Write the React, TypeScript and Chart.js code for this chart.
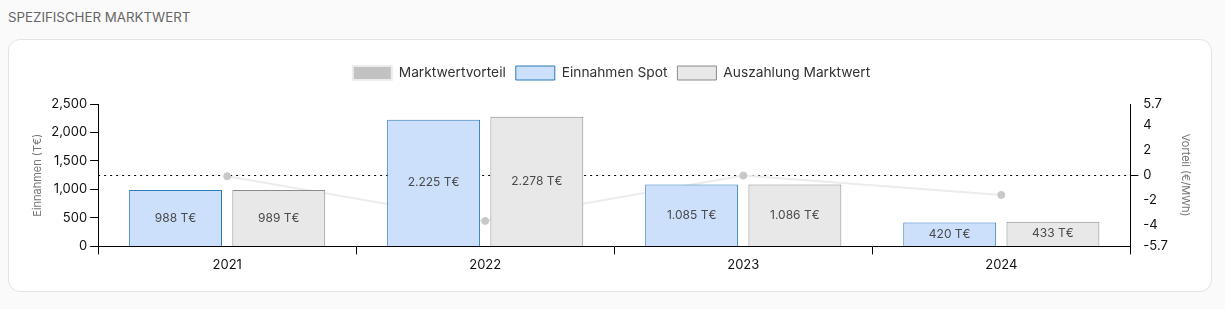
import { useEffect, useRef } from "react";
import { Chart, registerables } from "chart.js";

Chart.register(...registerables);

const categories = ["2021", "2022", "2023", "2024"];
const einnahmenSpot = [988, 2225, 1085, 420];
const auszahlungMarktwert = [989, 2278, 1086, 433];
const marktwertvorteil = [-0.08, -3.66, -0.03, -1.58];

const leftMin = 0;
const leftMax = 2500;
const leftStep = 500;
const rightMin = -5.7;
const rightMax = 5.7;
const rightStep = 2;

const FONT = "Inter, 'Noto Sans', sans-serif";

const legendGapPlugin = {
  id: "legendGap",
  beforeInit(chart: any) {
    const lg = chart.legend;
    if (!lg) return;
    const orig = lg.fit;
    lg.fit = function () {
      orig.call(lg);
      lg.height += 14;
    };
  },
};

const zeroLinePlugin = {
  id: "zeroLine",
  beforeDatasetsDraw(chart: any) {
    const s = chart.scales.y1;
    const a = chart.chartArea;
    if (!s) return;
    const y = Math.round(s.getPixelForValue(0)) + 0.5;
    const ctx = chart.ctx;
    ctx.save();
    ctx.strokeStyle = "#000";
    ctx.lineWidth = 1;
    ctx.setLineDash([2, 4]);
    ctx.beginPath();
    ctx.moveTo(a.left, y);
    ctx.lineTo(a.right, y);
    ctx.stroke();
    ctx.restore();
  },
};

const barLabelPlugin = {
  id: "barLabels",
  afterDatasetsDraw(chart: any) {
    const ctx = chart.ctx;
    ctx.save();
    ctx.font = `12px ${FONT}`;
    ctx.fillStyle = "#4a4a4a";
    ctx.textAlign = "center";
    ctx.textBaseline = "middle";
    chart.data.datasets.forEach((ds: any, i: number) => {
      if (ds.type !== "bar") return;
      const meta = chart.getDatasetMeta(i);
      meta.data.forEach((el: any, j: number) => {
        const v = ds.data[j];
        const txt = Number(v).toLocaleString("de-DE") + " T€";
        ctx.fillText(txt, el.x, (el.y + el.base) / 2);
      });
    });
    ctx.restore();
  },
};

function MarktwertChart() {
  const ref = useRef<HTMLCanvasElement | null>(null);
  useEffect(() => {
    if (!ref.current) return;
    Chart.defaults.font.family = FONT;
    const chart = new Chart(ref.current, {
      type: "bar",
      data: {
        labels: categories,
        datasets: [
          {
            type: "line",
            label: "Marktwertvorteil",
            data: marktwertvorteil,
            yAxisID: "y1",
            borderColor: "#ececec",
            backgroundColor: "#c2c2c2",
            borderWidth: 2,
            pointRadius: 3.5,
            pointBackgroundColor: "#c8c8c8",
            pointBorderColor: "#c8c8c8",
            pointBorderWidth: 1,
            tension: 0,
            order: 3,
          } as any,
          {
            type: "bar",
            label: "Einnahmen Spot",
            data: einnahmenSpot,
            yAxisID: "y",
            backgroundColor: "#cce0fb",
            borderColor: "#2b7bb9",
            borderWidth: 1,
            order: 1,
          },
          {
            type: "bar",
            label: "Auszahlung Marktwert",
            data: auszahlungMarktwert,
            yAxisID: "y",
            backgroundColor: "#e8e8e8",
            borderColor: "#8a8a8a",
            borderWidth: 1,
            order: 1,
          },
        ],
      },
      options: {
        animation: false,
        responsive: true,
        maintainAspectRatio: false,
        layout: { padding: { top: 16, left: 18, right: 15, bottom: 15 } },
        plugins: {
          legend: {
            position: "top",
            labels: {
              boxWidth: 39,
              boxHeight: 14,
              color: "#333",
              font: { size: 13.75, family: FONT },
              padding: 10,
              sort: (a: any, b: any) => a.datasetIndex - b.datasetIndex,
            },
          },
          tooltip: { enabled: false },
        },
        scales: {
          x: {
            grid: {
              display: true,
              drawOnChartArea: false,
              color: "#000",
              tickLength: 8,
            },
            border: { color: "#000" },
            ticks: { color: "#111", font: { size: 13, family: FONT } },
          },
          y: {
            position: "left",
            min: leftMin,
            max: leftMax,
            grid: { drawOnChartArea: false, color: "#000", tickLength: 8 },
            border: { color: "#000" },
            ticks: {
              stepSize: leftStep,
              color: "#111",
              font: { size: 13, family: FONT },
              callback: (v: any) => Number(v).toLocaleString("en-US"),
            },
            title: {
              display: true,
              text: "Einnahmen (T€)",
              color: "#777",
              font: { size: 11, family: FONT },
            },
          },
          y1: {
            position: "right",
            min: rightMin,
            max: rightMax,
            grid: {
              drawOnChartArea: false,
              color: (c: any) => (c.tick && c.tick.value === 0 ? "#000" : "rgba(0,0,0,0)"),
              tickLength: 8,
            },
            border: { color: "#000" },
            ticks: {
              stepSize: rightStep,
              padding: 5,
              color: "#111",
              font: { size: 13, family: FONT },
              callback: (v: any) => String(Math.round(Number(v) * 10) / 10),
            },
            title: {
              display: true,
              text: "Vorteil (€/MWh)",
              color: "#777",
              font: { size: 11, family: FONT },
              padding: { top: 4, bottom: 6 },
            },
          },
        },
      },
      plugins: [legendGapPlugin, zeroLinePlugin, barLabelPlugin],
    });
    return () => chart.destroy();
  }, []);
  return <canvas ref={ref} />;
}

export default function App() {
  useEffect(() => {
    document.body.style.background = "#fafafa";
  }, []);
  return (
    <div style={{ fontFamily: FONT }}>
      <div
        style={{
          fontSize: 13.3,
          lineHeight: "18px",
          color: "#666",
          height: 18,
          marginBottom: 13,
        }}
      >
        SPEZIFISCHER MARKTWERT
      </div>
      <div
        style={{
          width: 1204,
          height: 253,
          boxSizing: "border-box",
          border: "1px solid #e3e3e3",
          borderRadius: 12,
          background: "#fff",
          position: "relative",
        }}
      >
        <div style={{ position: "absolute", left: 0, top: 0, width: 1202, height: 251 }}>
          <MarktwertChart />
        </div>
      </div>
    </div>
  );
}
